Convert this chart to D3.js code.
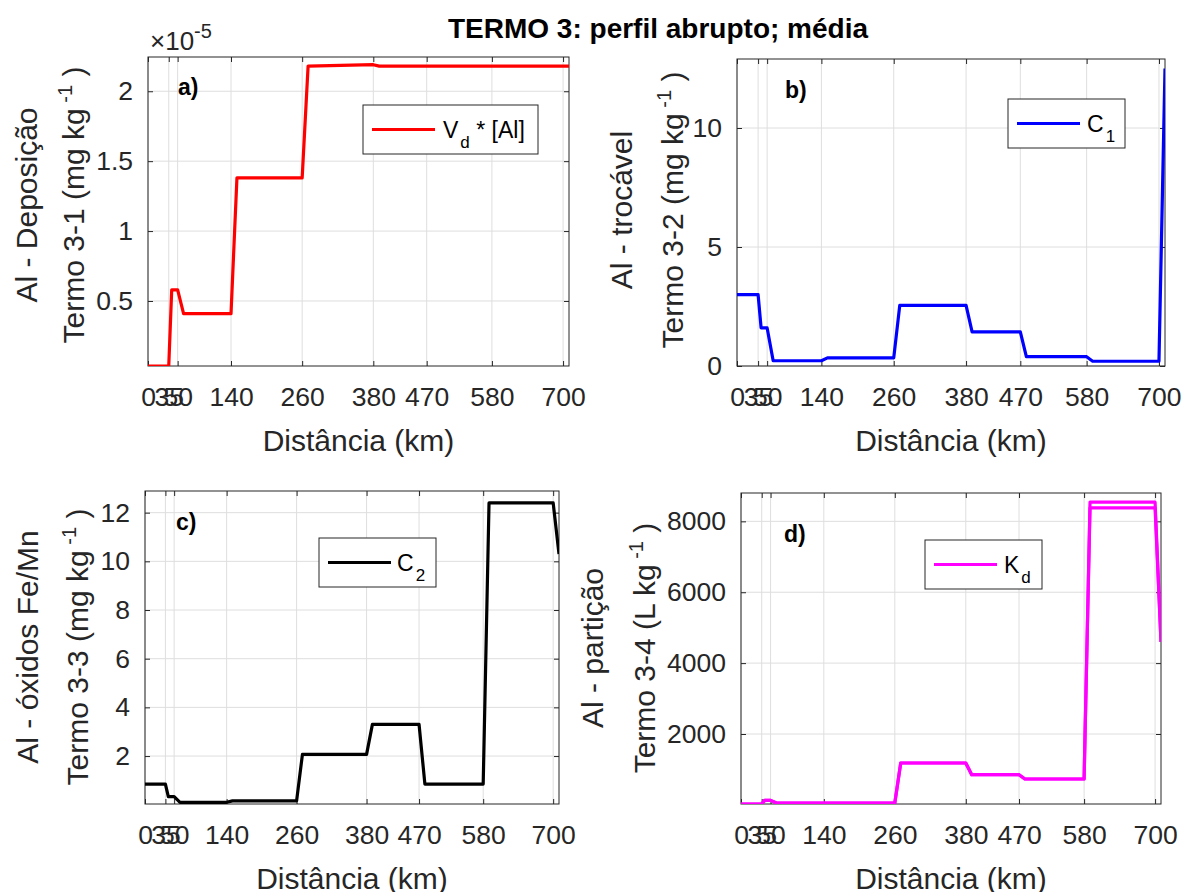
<!DOCTYPE html>
<html>
<head>
<meta charset="utf-8">
<script src="https://cdn.jsdelivr.net/npm/d3@7"></script>
<style>
    body { margin: 0; background: #fff; }
    svg text { font-family: "Liberation Sans", Arial, Helvetica, sans-serif; }
</style>
</head>
<body>
<script>
"use strict";

// distance along the profile (km), shared by all four series
var distance = [0, 35, 40, 50, 60, 140, 150, 260, 270, 380, 390, 470, 480, 580, 590, 700, 710];
var xTicks = [0, 35, 50, 140, 260, 380, 470, 580, 700];

// a) Vd * [Al], in units of 1e-5
var deposicao = [0.035, 0.035, 0.58, 0.58, 0.41, 0.41, 1.38, 1.38, 2.18, 2.19, 2.18, 2.18, 2.18, 2.18, 2.18, 2.18, 2.18];
// b) C1
var trocavel = [3.0, 3.0, 1.6, 1.6, 0.22, 0.22, 0.34, 0.34, 2.55, 2.55, 1.43, 1.43, 0.39, 0.39, 0.2, 0.2, 12.5];
// c) C2
var oxidos = [0.85, 0.85, 0.33, 0.33, 0.1, 0.1, 0.16, 0.16, 2.07, 2.07, 3.3, 3.3, 0.85, 0.85, 12.4, 12.4, 10.3];
// d) Kd (two nearly identical curves)
var particao = [25, 25, 127, 127, 53, 53, 53, 53, 1182, 1182, 852, 852, 730, 730, 8380, 8380, 4600];
var particaoAlt = [25, 25, 127, 127, 53, 53, 53, 53, 1182, 1182, 852, 852, 730, 730, 8540, 8540, 4600];

var yTicksA = [0.5, 1, 1.5, 2];
var yTicksB = [0, 5, 10];
var yTicksC = [2, 4, 6, 8, 10, 12];
var yTicksD = [2000, 4000, 6000, 8000];

var axisColor = "#262626",
    gridColor = "#dedede",
    tickFont = 26.5,
    labelFont = 30;

var svg = d3.select("body").append("svg")
    .attr("width", 1182)
    .attr("height", 892);

svg.append("rect")
    .attr("width", 1182)
    .attr("height", 892)
    .attr("fill", "#fff");

svg.append("text")
    .attr("x", 658)
    .attr("y", 38)
    .attr("text-anchor", "middle")
    .attr("font-size", 28)
    .attr("font-weight", "bold")
    .attr("fill", "#000")
    .text("TERMO 3: perfil abrupto; média");

var panels = [
    {
        id: "a", left: 148, right: 569, top: 57, bottom: 366,
        yDomain: [0.035, 2.245], yTicks: yTicksA,
        series: [{ values: deposicao, color: "#ff0000" }],
        label1: "Al - Deposição", label2: "Termo 3-1 (mg kg", lx1: 37, lx2: 84, ly: 205,
        legend: { x: 363, y: 105, w: 175, h: 49, main: "V", sub: "d", rest: " * [Al]", tx: 443 },
        letter: "a)", letterX: 178, letterY: 95
    },
    {
        id: "b", left: 737, right: 1165, top: 59, bottom: 366,
        yDomain: [0, 12.9], yTicks: yTicksB,
        series: [{ values: trocavel, color: "#0000ff" }],
        label1: "Al - trocável", label2: "Termo 3-2 (mg kg", lx1: 632, lx2: 683, ly: 210,
        legend: { x: 1008, y: 99, w: 117, h: 49, main: "C", sub: "1", rest: "", tx: 1087 },
        letter: "b)", letterX: 785, letterY: 98
    },
    {
        id: "c", left: 145, right: 559, top: 491, bottom: 804,
        yDomain: [0.03, 12.89], yTicks: yTicksC,
        series: [{ values: oxidos, color: "#000000" }],
        label1: "Al - óxidos Fe/Mn", label2: "Termo 3-3 (mg kg", lx1: 38, lx2: 88, ly: 647,
        legend: { x: 319, y: 538, w: 117, h: 49, main: "C", sub: "2", rest: "", tx: 397 },
        letter: "c)", letterX: 176, letterY: 530
    },
    {
        id: "d", left: 741, right: 1161, top: 493, bottom: 804,
        yDomain: [25, 8800], yTicks: yTicksD,
        series: [{ values: particao, color: "#ff00ff" }, { values: particaoAlt, color: "#ff00ff" }],
        label1: "Al - partição", label2: "Termo 3-4 (L kg", lx1: 603, lx2: 655, ly: 648,
        legend: { x: 925, y: 540, w: 117, h: 49, main: "K", sub: "d", rest: "", tx: 1004 },
        letter: "d)", letterX: 784, letterY: 542
    }
];

function styleAxis(sel) {
    sel.select(".domain").remove();
    sel.selectAll("line").attr("stroke", axisColor);
    sel.selectAll("text")
        .attr("fill", axisColor)
        .attr("font-size", tickFont)
        .attr("font-family", "'Liberation Sans', Arial, Helvetica, sans-serif");
}

function drawPanel(p) {
    var x = d3.scaleLinear().domain([0, 710]).range([p.left, p.right]);
    var y = d3.scaleLinear().domain(p.yDomain).range([p.bottom, p.top]);
    var w = p.right - p.left,
        h = p.bottom - p.top;

    var g = svg.append("g").attr("class", "panel-" + p.id);

    g.append("clipPath")
        .attr("id", "clip-" + p.id)
        .append("rect")
            .attr("x", p.left)
            .attr("y", p.top)
            .attr("width", w)
            .attr("height", h);

    // grid
    g.append("g").selectAll("line")
        .data(xTicks)
        .enter().append("line")
            .attr("x1", function(d) { return x(d); })
            .attr("x2", function(d) { return x(d); })
            .attr("y1", p.top)
            .attr("y2", p.bottom)
            .attr("stroke", gridColor);

    g.append("g").selectAll("line")
        .data(p.yTicks)
        .enter().append("line")
            .attr("x1", p.left)
            .attr("x2", p.right)
            .attr("y1", function(d) { return y(d); })
            .attr("y2", function(d) { return y(d); })
            .attr("stroke", gridColor);

    // axes, ticks pointing inwards on all four sides
    g.append("g")
        .attr("transform", "translate(0," + p.bottom + ")")
        .call(d3.axisBottom(x).tickValues(xTicks).tickSizeInner(-5).tickSizeOuter(0).tickPadding(21))
        .call(styleAxis);

    g.append("g")
        .attr("transform", "translate(0," + p.top + ")")
        .call(d3.axisTop(x).tickValues(xTicks).tickSizeInner(-5).tickSizeOuter(0).tickFormat(""))
        .call(styleAxis);

    g.append("g")
        .attr("transform", "translate(" + p.left + ",0)")
        .call(d3.axisLeft(y).tickValues(p.yTicks).tickSizeInner(-5).tickSizeOuter(0).tickPadding(15)
            .tickFormat(d3.format("~g")))
        .call(styleAxis);

    g.append("g")
        .attr("transform", "translate(" + p.right + ",0)")
        .call(d3.axisRight(y).tickValues(p.yTicks).tickSizeInner(-5).tickSizeOuter(0).tickFormat(""))
        .call(styleAxis);

    g.append("rect")
        .attr("x", p.left)
        .attr("y", p.top)
        .attr("width", w)
        .attr("height", h)
        .attr("fill", "none")
        .attr("stroke", axisColor)
        .attr("stroke-width", 1);

    // data
    var line = d3.line()
        .x(function(d, i) { return x(distance[i]); })
        .y(function(d) { return y(d); });

    g.append("g")
        .attr("clip-path", "url(#clip-" + p.id + ")")
        .selectAll("path")
        .data(p.series)
        .enter().append("path")
            .attr("d", function(s) { return line(s.values); })
            .attr("fill", "none")
            .attr("stroke", function(s) { return s.color; })
            .attr("stroke-width", 3.2)
            .attr("stroke-linejoin", "round");

    // x label
    g.append("text")
        .attr("x", (p.left + p.right) / 2)
        .attr("y", p.bottom + 85)
        .attr("text-anchor", "middle")
        .attr("font-size", labelFont)
        .attr("fill", axisColor)
        .text("Distância (km)");

    // y label, two lines
    g.append("text")
        .attr("transform", "translate(" + p.lx1 + "," + p.ly + ") rotate(-90)")
        .attr("text-anchor", "middle")
        .attr("font-size", labelFont)
        .attr("fill", axisColor)
        .text(p.label1);

    var l2 = g.append("text")
        .attr("transform", "translate(" + p.lx2 + "," + p.ly + ") rotate(-90)")
        .attr("text-anchor", "middle")
        .attr("font-size", labelFont)
        .attr("fill", axisColor);
    l2.append("tspan").text(p.label2);
    l2.append("tspan").attr("font-size", 20).attr("dy", -12).text(" -1");
    l2.append("tspan").attr("dy", 12).text(" )");

    // panel letter
    g.append("text")
        .attr("x", p.letterX)
        .attr("y", p.letterY)
        .attr("font-size", 23)
        .attr("font-weight", "bold")
        .attr("fill", "#000")
        .text(p.letter);

    // legend
    var lg = p.legend;
    g.append("rect")
        .attr("x", lg.x)
        .attr("y", lg.y)
        .attr("width", lg.w)
        .attr("height", lg.h)
        .attr("fill", "#fff")
        .attr("stroke", axisColor)
        .attr("stroke-width", 1);

    var ly = lg.y + lg.h / 2;
    g.append("line")
        .attr("x1", lg.x + 9)
        .attr("x2", lg.x + 72)
        .attr("y1", ly)
        .attr("y2", ly)
        .attr("stroke", p.series[0].color)
        .attr("stroke-width", 3);

    var lt = g.append("text")
        .attr("x", lg.tx)
        .attr("y", ly + 8)
        .attr("font-size", 23)
        .attr("fill", "#000");
    lt.append("tspan").text(lg.main);
    lt.append("tspan").attr("font-size", 17).attr("dx", 2).attr("dy", 10).text(lg.sub);
    if (lg.rest) {
        lt.append("tspan").attr("dy", -10).text(lg.rest);
    }
}

panels.forEach(drawPanel);

// exponent of panel a
var ex = svg.append("text")
    .attr("x", 150)
    .attr("y", 50)
    .attr("font-size", 26)
    .attr("fill", axisColor);
ex.append("tspan").text("×10");
ex.append("tspan").attr("font-size", 20).attr("dy", -12).text("-5");
</script>
</body>
</html>
